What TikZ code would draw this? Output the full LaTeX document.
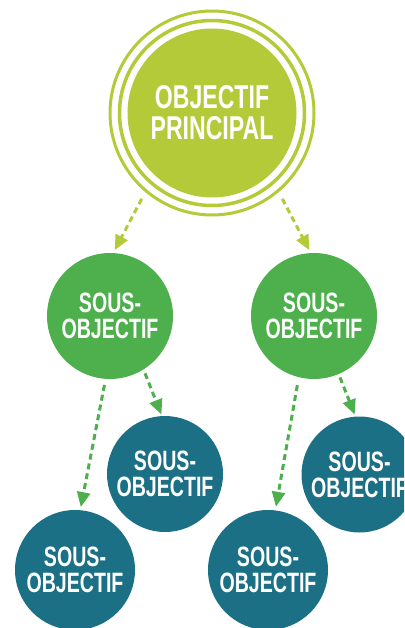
\documentclass[tikz,border=0pt]{standalone}
\usepackage{fontspec}
\newfontfamily\labelfont{Liberation Sans}[FakeStretch=0.7]
\usepackage{tikz}
\usetikzlibrary{arrows.meta}
\definecolor{goallime}{HTML}{B4CA38}
\definecolor{subgreen}{HTML}{4DB04C}
\definecolor{subteal}{HTML}{1C7086}
\tikzset{
  goal/.style={
    circle,
    fill=goallime,
    text=white,
    align=center,
    inner sep=0pt,
    minimum size=169pt,
    font=\labelfont\bfseries\fontsize{33}{31}\selectfont
  },
  ring/.style={draw=goallime, line width=3pt},
  subgoal/.style={
    circle,
    fill=subgreen,
    text=white,
    align=center,
    inner sep=0pt,
    minimum size=126pt,
    font=\labelfont\bfseries\fontsize{28}{26}\selectfont
  },
  leaf/.style={subgoal, fill=subteal, minimum size=116pt},
  link/.style={-{Triangle[length=15pt,width=13pt]}, line width=3pt,
    dash pattern=on 6pt off 4pt}
}

\begin{document}
\begin{tikzpicture}[x=1pt, y=-1pt]
  \clip (0,0) rectangle (404,628);

  \node[goal] (main) at (212,113) {OBJECTIF\\PRINCIPAL};
  \draw[ring, line width=3.5pt] (main.center) circle (92.5pt);
  \draw[ring] (main.center) circle (102pt);

  \node[subgoal] (subleft) at (110,316) {SOUS-\\OBJECTIF};
  \node[subgoal] (subright) at (314,316) {SOUS-\\OBJECTIF};

  \node[leaf] (leftnear) at (165,474) {SOUS-\\OBJECTIF};
  \node[leaf, minimum size=120pt] (leftfar) at (75,570) {SOUS-\\OBJECTIF};
  \node[leaf] (rightnear) at (359.5,474.5) {SOUS-\\OBJECTIF};
  \node[leaf, minimum size=120pt] (rightfar) at (268,570) {SOUS-\\OBJECTIF};

  % main goal down to the two sub goals
  \draw[link, goallime, shorten <=27pt, shorten >=3pt] (main.227) -- (subleft.87);
  \draw[link, goallime, shorten <=27pt, shorten >=3pt] (main.-47) -- (subright.93);

  % sub goals down to their own sub goals
  \draw[link, subgreen, shorten <=6pt, shorten >=3pt] (subleft.266.5) -- (leftfar.85.5);
  \draw[link, subgreen, shorten <=4pt, shorten >=1.5pt] (subleft.-58) -- (leftnear.93);
  \draw[link, subgreen, shorten <=8pt, shorten >=3.5pt] (subright.256.6) -- (rightfar.83.7);
  \draw[link, subgreen, shorten <=3.5pt, shorten >=2pt] (subright.-67) -- (rightnear.94);
\end{tikzpicture}
\end{document}
